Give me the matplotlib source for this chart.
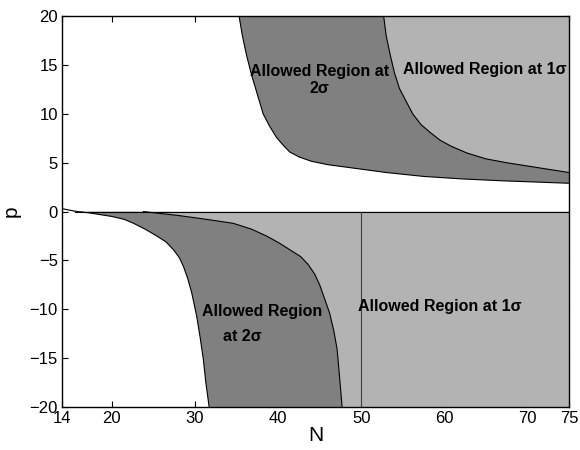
import matplotlib
matplotlib.use("Agg")
import matplotlib.pyplot as plt

plt.rcParams['font.family'] = ['Liberation Sans', 'DejaVu Sans']

# Upper half (p > 0): 2-sigma boundary A, 1-sigma boundary B
A_N = [35.3, 35.7, 36.2, 36.8, 37.5, 38.2, 39.0, 39.8, 40.6, 41.4, 42.5, 44.0,
       46.0, 49.5, 53.0, 57.5, 62.0, 67.0, 75.0]
A_p = [20.0, 18.0, 16.0, 14.0, 12.0, 10.0, 8.7, 7.6, 6.8, 6.1, 5.6, 5.15,
       4.8, 4.4, 4.0, 3.6, 3.35, 3.15, 2.9]
B_N = [52.7, 53.0, 53.5, 54.0, 54.6, 55.3, 56.2, 57.2, 58.3, 59.5, 60.8, 62.7,
       65.0, 67.5, 70.5, 75.0]
B_p = [20.0, 18.0, 16.0, 14.2, 12.6, 11.45, 10.0, 8.9, 8.1, 7.3, 6.7, 6.0,
       5.4, 5.0, 4.6, 4.0]

# Lower half (p < 0): 2-sigma region between L and R, 1-sigma right of R
L_N = [14.0, 15.5, 17.4, 20.0, 21.5, 22.6, 24.0, 25.4, 26.5, 27.4, 28.1, 28.6,
       29.1, 29.6, 30.2, 30.6, 31.0, 31.3, 31.7]
L_p = [0.3, 0.05, -0.15, -0.5, -0.8, -1.2, -1.8, -2.5, -3.1, -3.9, -4.7, -5.6,
       -6.8, -8.3, -10.7, -12.8, -15.1, -17.5, -20.0]
R_N = [23.8, 28.0, 31.0, 34.6, 36.8, 38.6, 40.1, 41.4, 42.7, 43.6, 44.4, 45.0,
       45.5, 46.2, 46.7, 47.1, 47.4, 47.7]
R_p = [0.0, -0.4, -0.75, -1.2, -1.8, -2.5, -3.2, -3.9, -4.6, -5.4, -6.4, -7.5,
       -8.7, -10.4, -12.2, -14.1, -17.0, -20.0]
split_N = 50

x_ticks = [14, 20, 30, 40, 50, 60, 70, 75]
y_ticks = [-20, -15, -10, -5, 0, 5, 10, 15, 20]

dark = '#808080'
light = '#b3b3b3'

fig = plt.figure(figsize=(5.8, 4.5), dpi=100)
ax = fig.add_axes([0.107, 0.0956, 0.874, 0.8684])
ax.set_xlim(14, 75)
ax.set_ylim(-20, 20)

# upper: dark region right of A, light region right of B
ax.fill(A_N + [75, 75], A_p + [20, 20], color=dark, lw=0, zorder=1)
ax.fill(B_N + [75, 75], B_p + [20, 20], color=light, lw=0, zorder=2)
ax.plot(A_N, A_p, color='k', lw=0.8, zorder=3)
ax.plot(B_N, B_p, color='k', lw=0.8, zorder=3)

# lower: light region right of R, dark region between L and R
ax.fill(R_N + [75, 75], R_p + [-20, 0], color=light, lw=0, zorder=1)
ax.fill(L_N + R_N[::-1] + [L_N[1]], L_p + R_p[::-1] + [0], color=dark, lw=0, zorder=2)
ax.plot(L_N, L_p, color='k', lw=0.8, zorder=3)
ax.plot(R_N, R_p, color='k', lw=0.8, zorder=3)
ax.plot([L_N[1], 75], [0, 0], color='k', lw=0.8, zorder=3)
ax.plot([split_N, split_N], [0, -20], color='#404040', lw=0.8, zorder=3)

tfs = 11.5
ax.text(45.0, 13.5, 'Allowed Region at\n2σ', ha='center', va='center',
        fontsize=tfs, fontweight='bold', linespacing=1.15, zorder=4)
ax.text(64.9, 14.5, 'Allowed Region at 1σ', ha='center', va='center',
        fontsize=tfs, fontweight='bold', zorder=4)
ax.text(38.1, -10.2, 'Allowed Region', ha='center', va='center',
        fontsize=tfs, fontweight='bold', zorder=4)
ax.text(35.7, -12.8, 'at 2σ', ha='center', va='center',
        fontsize=tfs, fontweight='bold', zorder=4)
ax.text(59.4, -9.7, 'Allowed Region at 1σ', ha='center', va='center',
        fontsize=tfs, fontweight='bold', zorder=4)

ax.set_xticks(x_ticks)
ax.set_yticks(y_ticks)
ax.set_axisbelow(True)
ax.tick_params(direction='in', length=4, width=0.8, labelsize=12,
               top=True, right=True, pad=3)
for s in ax.spines.values():
    s.set_linewidth(1.0)
    s.set_zorder(5)

ax.set_xlabel('N', fontsize=15, labelpad=0)
ax.set_ylabel('p', fontsize=15, labelpad=6)

fig.savefig('out.png', dpi=100)
